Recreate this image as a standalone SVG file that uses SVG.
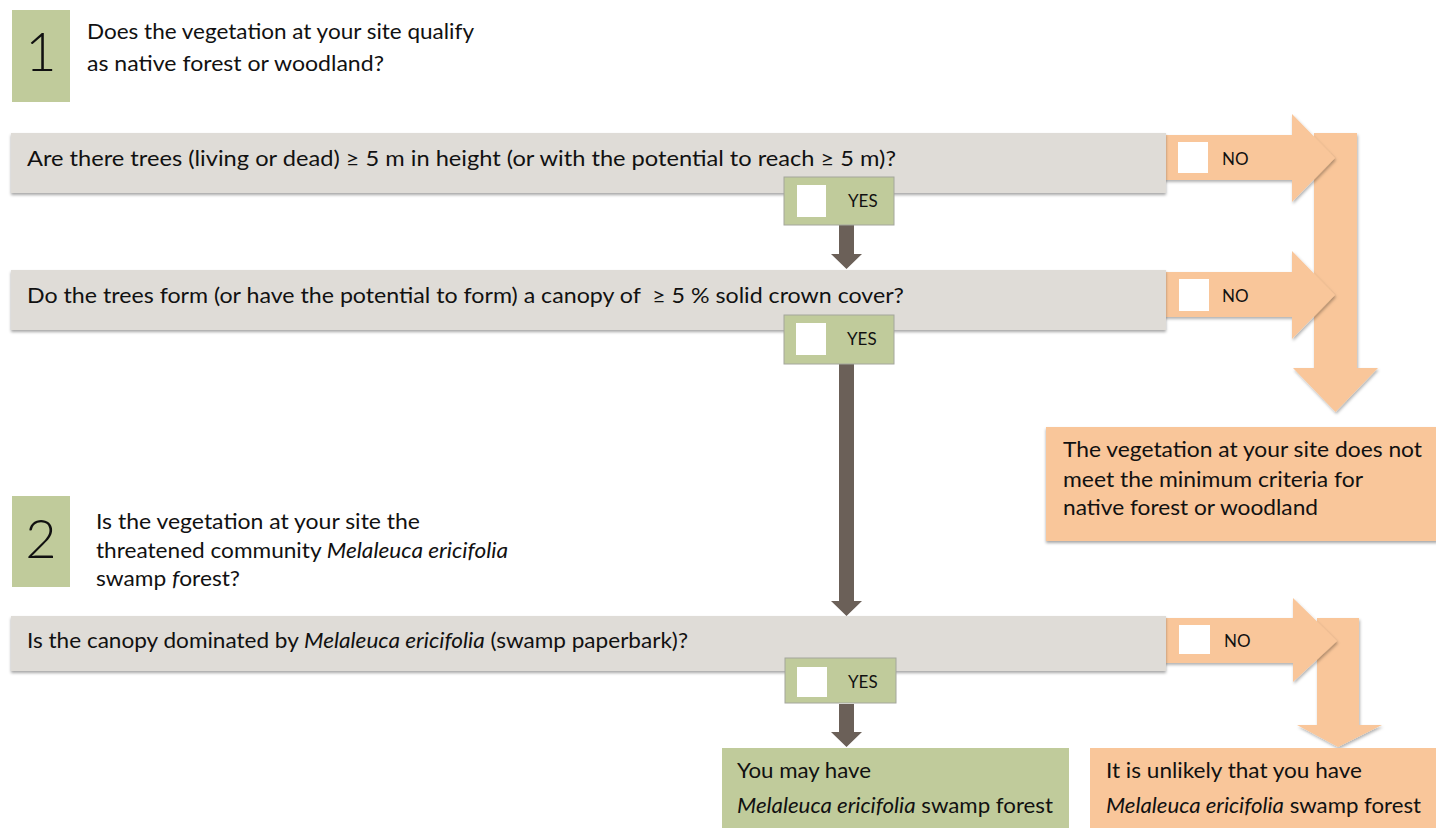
<svg xmlns="http://www.w3.org/2000/svg" width="1436" height="828" viewBox="0 0 1436 828">
<defs>
<filter id="sh" x="-5%" y="-20%" width="110%" height="150%">
<feDropShadow dx="0" dy="2" stdDeviation="1.5" flood-color="#000" flood-opacity="0.35"/>
</filter>
<filter id="sh2" x="-20%" y="-20%" width="140%" height="140%">
<feDropShadow dx="1" dy="2" stdDeviation="1.5" flood-color="#000" flood-opacity="0.3"/>
</filter>
</defs>
<style>
text{font-family:Lato,"Open Sans","Liberation Sans",sans-serif;fill:#111}
.q{font-size:21px}
.t{font-size:21px}
.num{font-size:54px;font-weight:300;fill:#111}
.lbl{font-size:17px}
.grey{fill:#dfdcd7}
.green{fill:#c0cb9b}
.orange{fill:#f9c69a}
.dark{fill:#6b6058}
.yes{fill:#c0cb9b;stroke:#a4a69c;stroke-width:1}
.box{fill:#fff}
</style>
<rect width="1436" height="828" fill="#fff"/>

<g id="connectors">
<polygon class="orange" filter="url(#sh2)" points="1314,133 1357,133 1357,368 1378,368 1335.5,412 1293,368 1314,368"/>
<polygon class="orange" filter="url(#sh2)" points="1317,618 1359,618 1359,725 1382,725 1338,747 1297,725 1317,725"/>
<polygon class="orange" filter="url(#sh2)" points="1160,135 1292,135 1292,114 1335,158 1292,202 1292,180 1160,180"/>
<polygon class="orange" filter="url(#sh2)" points="1160,272 1292,272 1292,251 1335,295 1292,339 1292,317 1160,317"/>
<polygon class="orange" filter="url(#sh2)" points="1160,618 1293,618 1293,598 1337,641 1293,682 1293,663 1160,663"/>
<polygon class="dark" points="839,225 854,225 854,254 862,254 846.5,269 831,254 839,254"/>
<polygon class="dark" points="839,364 854,364 854,601 862,601 846.5,616 831,601 839,601"/>
<polygon class="dark" points="839,704 854,704 854,732 862,732 846.5,747 831,732 839,732"/>
<rect class="box" x="1178" y="142" width="30" height="31"/>
<text class="lbl" x="1222" y="165">NO</text>
<rect class="box" x="1179" y="279" width="30" height="32"/>
<text class="lbl" x="1222" y="302">NO</text>
<rect class="box" x="1179" y="625" width="31" height="29"/>
<text class="lbl" x="1224" y="647">NO</text>
</g>

<g id="step1">
<rect class="green" x="12" y="10" width="58" height="92"/>
<text class="num" x="41" y="71" text-anchor="middle">1</text>
<text class="t" x="87" y="39" textLength="387" lengthAdjust="spacingAndGlyphs">Does the vegetation at your site qualify</text>
<text class="t" x="87" y="71" textLength="297" lengthAdjust="spacingAndGlyphs">as native forest or woodland?</text>
</g>

<g id="q1">
<rect class="grey" filter="url(#sh)" x="11" y="133" width="1155" height="60"/>
<text class="q" x="27" y="166" textLength="869" lengthAdjust="spacingAndGlyphs">Are there trees (living or dead) ≥ 5 m in height (or with the potential to reach ≥ 5 m)?</text>
</g>
<g id="yes1">
<rect class="yes" x="784" y="177" width="110" height="48"/>
<rect class="box" x="797" y="185" width="29" height="32"/>
<text class="lbl" x="848" y="207">YES</text>
</g>

<g id="q2">
<rect class="grey" filter="url(#sh)" x="11" y="270" width="1155" height="60"/>
<text class="q" x="27" y="303" textLength="877" lengthAdjust="spacingAndGlyphs">Do the trees form (or have the potential to form) a canopy of &#160;≥ 5 % solid crown cover?</text>
</g>
<g id="yes2">
<rect class="yes" x="784" y="315" width="110" height="49"/>
<rect class="box" x="796" y="323" width="30" height="32"/>
<text class="lbl" x="847" y="345">YES</text>
</g>

<g id="result1">
<rect class="orange" filter="url(#sh)" x="1046" y="427" width="392" height="114"/>
<text class="t" x="1063" y="457" textLength="359" lengthAdjust="spacingAndGlyphs">The vegetation at your site does not</text>
<text class="t" x="1063" y="487" textLength="300" lengthAdjust="spacingAndGlyphs">meet the minimum criteria for</text>
<text class="t" x="1063" y="515" textLength="255" lengthAdjust="spacingAndGlyphs">native forest or woodland</text>
</g>

<g id="step2">
<rect class="green" x="12" y="496" width="58" height="91"/>
<text class="num" x="41" y="558" text-anchor="middle">2</text>
<text class="t" x="96" y="529" textLength="324" lengthAdjust="spacingAndGlyphs">Is the vegetation at your site the</text>
<text class="t" x="96" y="558" textLength="412" lengthAdjust="spacingAndGlyphs">threatened community <tspan font-style="italic">Melaleuca ericifolia</tspan></text>
<text class="t" x="96" y="586" textLength="144" lengthAdjust="spacingAndGlyphs">swamp <tspan font-style="italic">f</tspan>orest?</text>
</g>

<g id="q3">
<rect class="grey" filter="url(#sh)" x="11" y="616" width="1155" height="55"/>
<text class="q" x="27" y="648" textLength="661" lengthAdjust="spacingAndGlyphs">Is the canopy dominated by <tspan font-style="italic">Melaleuca ericifolia</tspan> (swamp paperbark)?</text>
</g>
<g id="yes3">
<rect class="yes" x="785" y="658" width="111" height="45"/>
<rect class="box" x="797" y="667" width="30" height="30"/>
<text class="lbl" x="848" y="688">YES</text>
</g>

<g id="result2">
<rect class="green" x="722" y="748" width="347" height="82"/>
<text class="t" x="737" y="778" textLength="134" lengthAdjust="spacingAndGlyphs">You may have</text>
<text class="t" x="737" y="813" textLength="316" lengthAdjust="spacingAndGlyphs"><tspan font-style="italic">Melaleuca ericifolia</tspan> swamp forest</text>
</g>

<g id="result3">
<rect class="orange" x="1090" y="748" width="348" height="82"/>
<text class="t" x="1106" y="778" textLength="256" lengthAdjust="spacingAndGlyphs">It is unlikely that you have</text>
<text class="t" x="1106" y="813" textLength="315" lengthAdjust="spacingAndGlyphs"><tspan font-style="italic">Melaleuca ericifolia</tspan> swamp forest</text>
</g>
</svg>
